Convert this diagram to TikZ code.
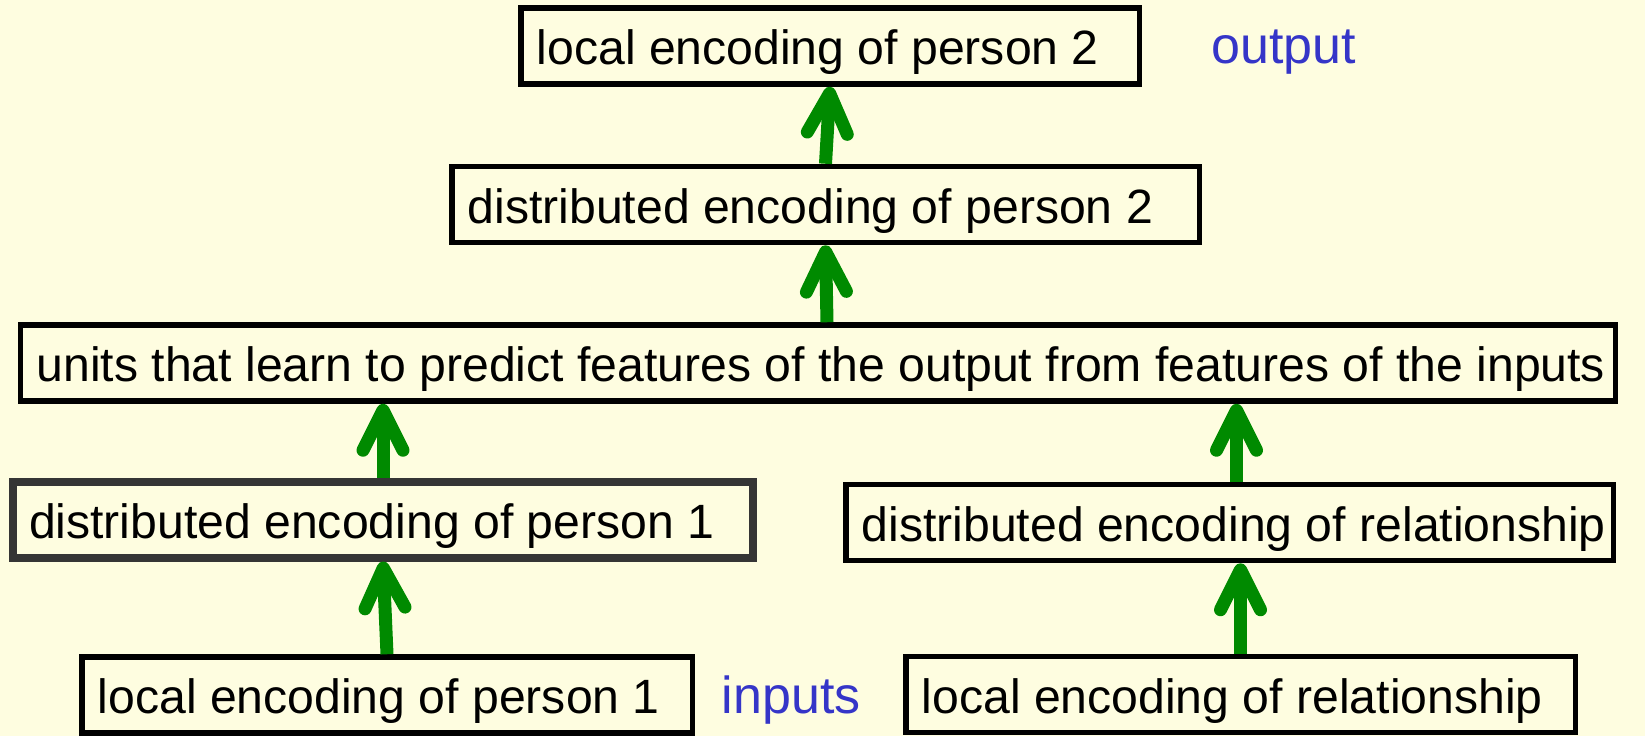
\documentclass[tikz,border=0pt]{standalone}
\usepackage{fontspec}
\setmainfont{Liberation Sans}
\usetikzlibrary{arrows.meta}
\definecolor{PaleYellow}{HTML}{FEFDE0}
\definecolor{ArrowGreen}{HTML}{008A00}
\definecolor{LabelBlue}{HTML}{3535C8}
\definecolor{BoxGray}{HTML}{353535}

\begin{document}
\begin{tikzpicture}
    \fill[PaleYellow] (0, 0) rectangle (32.9, -14.72);
    \useasboundingbox (0, 0) rectangle (32.9, -14.72);

    \begin{scope}[
        every node/.style = {
            draw,
            line width     = 0.11cm,
            inner xsep     = 0.32cm,
            inner ysep     = 0pt,
            minimum height = 1.52cm,
            text height    = 0.8cm,
            text depth     = 0.06cm,
            font           = \fontsize{27.4}{32}\selectfont,
        }
    ]
        \node (LocalTwo)  at (16.60,  -0.92) {\makebox[11.73cm][l]{local encoding of person 2}};
        \node (DistTwo)   at (16.51,  -4.09) {\makebox[14.31cm][l]{distributed encoding of person 2}};
        \node (Units)     at (16.36,  -7.26) {\makebox[31.25cm][l]{units that learn to predict features of the output from features of the inputs}};
        \node (DistOne)   at ( 7.66, -10.39) [draw = BoxGray, line width = 0.16cm] {\makebox[14.16cm][l]{distributed encoding of person 1}};
        \node (DistRel)   at (24.59, -10.45) {\makebox[14.71cm][l]{distributed encoding of relationship}};
        \node (LocalOne)  at ( 7.74, -13.90) {\makebox[11.57cm][l]{local encoding of person 1}};
        \node (LocalRel)  at (24.81, -13.89) {\makebox[12.75cm][l]{local encoding of relationship}};
    \end{scope}

    \begin{scope}[
        every node/.style = {
            anchor    = base west,
            inner sep = 0pt,
            text      = LabelBlue,
            font      = \fontsize{29.6}{34}\selectfont,
        }
    ]
        \node (OutputLabel) at (24.22,  -1.26) {output};
        \node (InputsLabel) at (14.43, -14.26) {inputs};
    \end{scope}

    \begin{scope}[
        ArrowGreen,
        line width = 0.26cm,
        -{Straight Barb[length = 0.8cm, width = 0.8cm, round]},
    ]
        \draw (DistTwo.north) -- (LocalTwo.south);
        \draw ([xshift = 0.18cm]Units.north) -- (DistTwo.south);
        \draw (DistOne.north) -- (DistOne.north |- Units.south);
        \draw ([xshift = 0.14cm]DistRel.north) -- ([xshift = 0.14cm]DistRel.north |- Units.south);
        \draw (LocalOne.north) -- (DistOne.south);
        \draw (LocalRel.north) -- (LocalRel.north |- DistRel.south);
    \end{scope}
\end{tikzpicture}
\end{document}
